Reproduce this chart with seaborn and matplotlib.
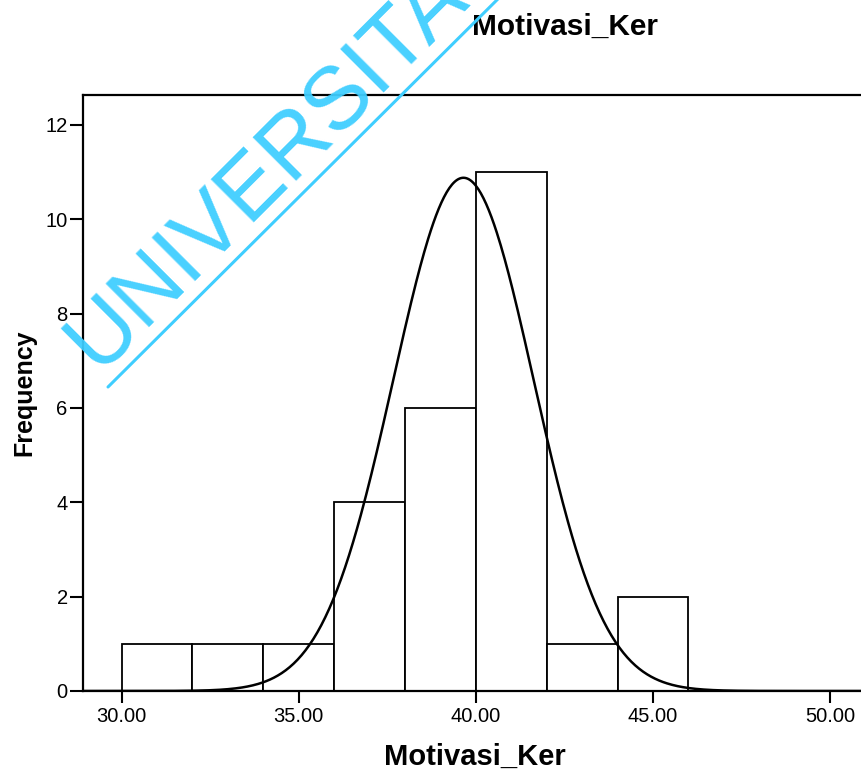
import numpy as np
import matplotlib
matplotlib.use("Agg")
import matplotlib.pyplot as plt
from matplotlib.lines import Line2D
import seaborn as sns

# Histogram bins (width 2) and their frequencies
bin_edges = [30, 32, 34, 36, 38, 40, 42, 44, 46]
counts = [1, 1, 1, 4, 6, 11, 1, 2]

# Fitted normal curve parameters
curve_mean = 39.65
curve_sd = 1.98
n_obs = 27
bin_width = 2.0

x_ticks = [30, 35, 40, 45, 50]
x_tick_labels = ["30.00", "35.00", "40.00", "45.00", "50.00"]
y_ticks = [0, 2, 4, 6, 8, 10, 12]

title_text = "Motivasi_Ker"
x_label = "Motivasi_Ker"
y_label = "Frequency"
watermark = "UNIVERSITA"

sns.set_theme(style="ticks")
plt.rcParams["font.family"] = ["Liberation Sans", "DejaVu Sans"]

W, H = 862, 773
fig = plt.figure(figsize=(W / 100, H / 100), dpi=100)
ax = fig.add_axes([83 / W, 82 / H, 787 / W, 596 / H])

centers = [(a + b) / 2 for a, b in zip(bin_edges[:-1], bin_edges[1:])]
sns.histplot(x=centers, weights=counts, bins=bin_edges, ax=ax,
             color="white", edgecolor="black", linewidth=1.3, alpha=1.0)

xs = np.linspace(28.9, 51.2, 600)
ys = n_obs * bin_width * np.exp(-(xs - curve_mean) ** 2 / (2 * curve_sd ** 2)) / (curve_sd * np.sqrt(2 * np.pi))
sns.lineplot(x=xs, y=ys, ax=ax, color="black", linewidth=1.8)

ax.set_xlim(28.912, 51.124)
ax.set_ylim(0, 12.635)
ax.set_xticks(x_ticks)
ax.set_xticklabels(x_tick_labels)
ax.set_yticks(y_ticks)
ax.set_xlabel("")
ax.set_ylabel("")
ax.tick_params(axis="both", direction="out", length=9.5, width=1.5,
               labelsize=14.5, colors="black", pad=1.5)
ax.tick_params(axis="x", pad=3, length=8.5)
for side in ["left", "top", "bottom"]:
    ax.spines[side].set_visible(True)
    ax.spines[side].set_color("black")
    ax.spines[side].set_linewidth(1.6)
ax.spines["right"].set_visible(False)
ax.set_facecolor("white")

fig.text(565 / W, 1 - 27 / H, title_text, ha="center", va="center",
         fontsize=21.5, fontweight="bold", color="black")
fig.text(475 / W, 1 - 757 / H, x_label, ha="center", va="center",
         fontsize=21, fontweight="bold", color="black")
fig.text(24 / W, 1 - 393 / H, y_label, ha="center", va="center",
         rotation=90, fontsize=18, fontweight="bold", color="black")

# Diagonal watermark with its underline
wm_color = "#3FCEFF"
fig.text(97 / W, 1 - 372 / H, watermark, rotation=45, rotation_mode="anchor",
         ha="left", va="baseline", fontsize=64, color=wm_color, alpha=0.95, zorder=10)
fig.add_artist(Line2D([108 / W, 520 / W], [1 - 387 / H, 1 + 23 / H],
                      transform=fig.transFigure, color=wm_color, linewidth=2.2, zorder=10))

fig.savefig("out.png", dpi=100, facecolor="white")
